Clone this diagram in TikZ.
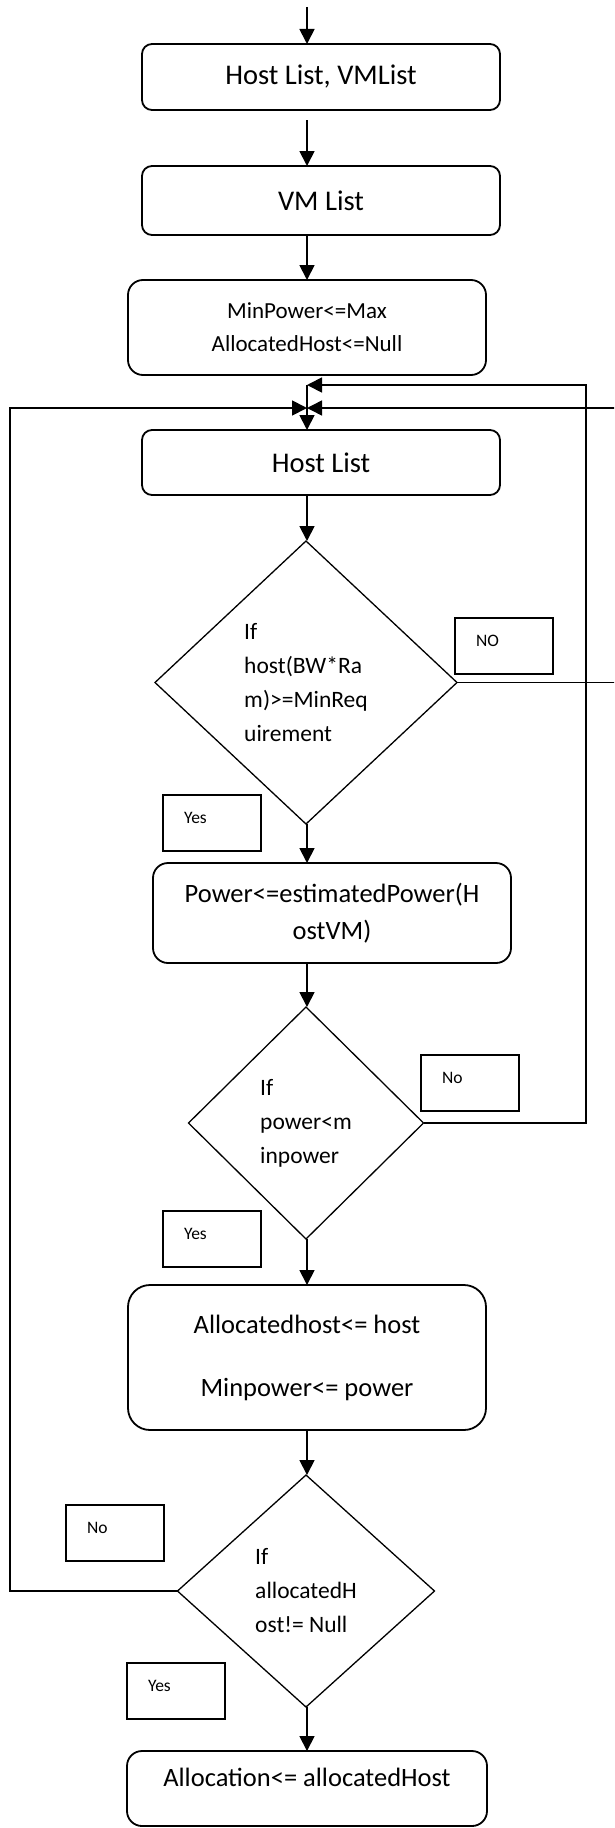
\documentclass[tikz,border=0pt]{standalone}
\usepackage{fontspec}
\setmainfont{Carlito}
\usetikzlibrary{arrows.meta,shapes.geometric}

\begin{document}
\begin{tikzpicture}[x=1pt,y=-1pt,
  every node/.style={outer sep=0pt},
  stepbox/.style={draw, line width=1.8pt, rounded corners=#1, inner sep=0pt,
    align=center, minimum width=358pt},
  stepbox/.default=10pt,
  bigtxt/.style={font=\fontsize{28.5}{34}\selectfont},
  midtxt/.style={font=\fontsize{26.5}{37}\selectfont},
  smalltxt/.style={font=\fontsize{23}{33}\selectfont},
  decision/.style={draw, shape=diamond, line width=1.3pt, inner sep=0pt,
    align=left, font=\fontsize{23.5}{34}\selectfont},
  tagbox/.style={draw, line width=1.6pt, minimum width=98pt, minimum height=56pt, inner sep=0pt},
  tagtxt/.style={anchor=west, inner sep=0pt, xshift=21pt, yshift=5pt,
    font=\fontsize{17.5}{20}\selectfont},
  arr/.style={line width=1.8pt, -{Triangle[length=15pt,width=15pt]}},
  loopline/.style={line width=1.8pt}
]
\clip (0,0) rectangle (614,1828);

% process boxes
\node[stepbox, bigtxt, minimum height=66pt] (lists) at (321,77) {Host List, VMList};
\node[stepbox, bigtxt, minimum height=69pt] (vmlist) at (321,200.5) {VM List};
\node[stepbox=15pt, smalltxt, minimum height=95pt] (init) at (307,327.5)
  {MinPower<=Max\\AllocatedHost<=Null};
\node[stepbox, bigtxt, minimum height=65pt] (hostlist) at (321,462.5) {Host List};

% first test
\node[decision, minimum width=302pt, minimum height=283pt] (fits) at (306,682.5)
  {If\\host(BW*Ra\\m)>=MinReq\\uirement};
\node[stepbox=15pt, midtxt, minimum height=100pt] (estimate) at (332,913)
  {Power<=estimatedPower(H\\ostVM)};

% second test
\node[decision, minimum width=235pt, minimum height=232pt] (lower) at (306,1123)
  {If\\power<m\\inpower};
\node[stepbox=22pt, midtxt, minimum height=145pt, font=\fontsize{26.5}{63}\selectfont]
  (update) at (307,1357.5) {Allocatedhost<= host\\Minpower<= power};

% third test
\node[decision, minimum width=257pt, minimum height=232pt] (found) at (306,1591)
  {If\\allocatedH\\ost!= Null};
\node[stepbox=15pt, midtxt, minimum width=360pt, minimum height=75pt, text depth=22pt]
  (result) at (307,1788.5) {Allocation<= allocatedHost};

% branch tags
\node[tagbox] (no1) at (504,646) {};
\node[tagtxt] (no1t) at (no1.west) {NO};
\node[tagbox] (yes1) at (212,823) {};
\node[tagtxt] (yes1t) at (yes1.west) {Yes};
\node[tagbox] (no2) at (470,1083) {};
\node[tagtxt] (no2t) at (no2.west) {No};
\node[tagbox] (yes2) at (212,1239) {};
\node[tagtxt] (yes2t) at (yes2.west) {Yes};
\node[tagbox] (no3) at (115,1533) {};
\node[tagtxt] (no3t) at (no3.west) {No};
\node[tagbox] (yes3) at (176,1691) {};
\node[tagtxt] (yes3t) at (yes3.west) {Yes};

% helper points of the main axis and the return columns
\coordinate (ax) at (307,0);
\coordinate (entry) at (307,7);
\coordinate (join) at (307,385);
\coordinate (merge) at (307,408);
\coordinate (rcol) at (586,385);
\coordinate (farcol) at (640,408);
\coordinate (lcol) at (10,408);

% main flow
\draw[arr] (entry) -- (lists.north -| ax);
\draw[arr, shorten <=10pt] (lists.south -| ax) -- (vmlist.north -| ax);
\draw[arr] (vmlist.south -| ax) -- (init.north -| ax);
\draw[arr] (join) -- (hostlist.north -| ax);
\draw[arr] (hostlist.south -| ax) -- (fits.north -| ax);
\draw[arr] (fits.south -| ax) -- (estimate.north -| ax);
\draw[arr] (estimate.south -| ax) -- (lower.north -| ax);
\draw[arr] (lower.south -| ax) -- (update.north -| ax);
\draw[arr] (update.south -| ax) -- (found.north -| ax);
\draw[arr] (found.south -| ax) -- (result.north -| ax);

% return paths
\draw[arr] (lower.east) -- (lower.east -| rcol) -- (rcol) -- (join);
\draw[arr, line width=1.5pt] (fits.east) -- (fits.east -| farcol) -- (farcol) -- (merge);
\draw[arr] (found.west) -- (found.west -| lcol) -- (lcol) -- (merge);

\end{tikzpicture}
\end{document}
